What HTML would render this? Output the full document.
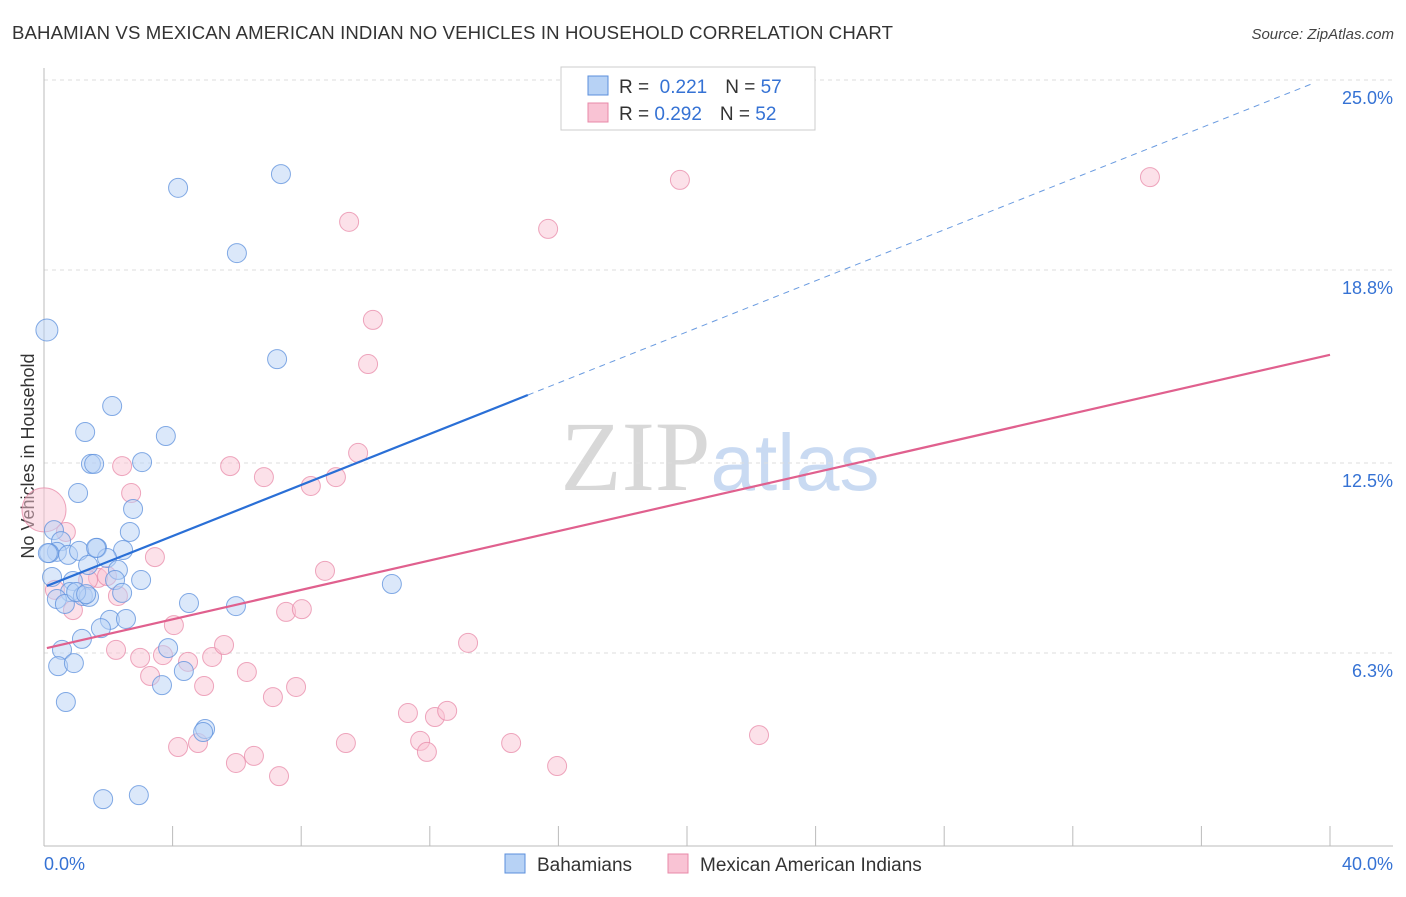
<!DOCTYPE html>
<html><head><meta charset="utf-8"><style>
body{margin:0;background:#fff;font-family:"Liberation Sans",sans-serif}
</style></head><body>
<svg id="chart" width="1406" height="892" xmlns="http://www.w3.org/2000/svg" font-family="Liberation Sans, sans-serif">
<text x="12" y="39" font-size="18.6" fill="#333" textLength="881">BAHAMIAN VS MEXICAN AMERICAN INDIAN NO VEHICLES IN HOUSEHOLD CORRELATION CHART</text>
<text x="1394" y="39" font-size="15" font-style="italic" fill="#444" text-anchor="end">Source: ZipAtlas.com</text>
<text x="720" y="490" font-size="100" fill="#d8d8d8" text-anchor="middle" font-family="Liberation Serif, serif">ZIP<tspan fill="#c9daf2" font-family="Liberation Sans, sans-serif" font-size="80">atlas</tspan></text>
<text transform="translate(34,456) rotate(-90)" font-size="18" fill="#333" text-anchor="middle">No Vehicles in Household</text>
<g id="grid"></g><g id="axes"></g><g id="pts"></g><g id="lines"></g>
<g>
<rect x="561" y="67" width="254" height="63" fill="#fff" stroke="#ccc"/>
<rect x="588" y="76" width="20" height="19" fill="#b7d2f5" stroke="#5b8fdc"/>
<rect x="588" y="103" width="20" height="19" fill="#f9c3d4" stroke="#e88aa8"/>
<text x="619" y="93" font-size="19" fill="#333">R = <tspan fill="#3572d4">&#160;0.221</tspan><tspan dx="18">N = </tspan><tspan fill="#3572d4">57</tspan></text>
<text x="619" y="120" font-size="19" fill="#333">R = <tspan fill="#3572d4">0.292</tspan><tspan dx="18">N = </tspan><tspan fill="#3572d4">52</tspan></text>
</g>
<g>
<rect x="505" y="854" width="20" height="19" fill="#b7d2f5" stroke="#5b8fdc"/>
<text x="537" y="871" font-size="19" fill="#333">Bahamians</text>
<rect x="668" y="854" width="20" height="19" fill="#f9c3d4" stroke="#e88aa8"/>
<text x="700" y="871" font-size="19" fill="#333">Mexican American Indians</text>
</g>
</svg>
<script>
const yTicks=[6.3,12.5,18.8,25.0];
const yTickLabels=["6.3%","12.5%","18.8%","25.0%"];
const xTickLabels=["0.0%","40.0%"];
const blueX=[0.09,4.17,7.37,6.00,7.25,2.12,1.28,3.79,1.46,1.56,3.05,1.06,2.77,0.31,2.67,0.53,0.40,0.16,0.75,1.65,1.09,2.46,1.96,1.37,2.30,0.25,0.90,2.21,3.02,10.82,0.81,2.43,1.21,1.40,0.40,0.65,4.51,5.97,2.05,2.55,1.77,1.18,3.86,0.56,4.35,0.44,0.93,3.67,0.68,5.01,4.95,1.84,2.95,1.62,1.00,1.31,0.12];
const blueY=[16.84,21.48,21.93,19.35,15.89,14.36,13.51,13.38,12.47,12.47,12.53,11.52,11.00,10.31,10.25,9.95,9.60,9.56,9.50,9.73,9.63,9.66,9.40,9.17,9.01,8.78,8.65,8.68,8.68,8.55,8.29,8.26,8.16,8.13,8.06,7.90,7.93,7.83,7.38,7.41,7.11,6.76,6.46,6.40,5.71,5.87,5.97,5.25,4.70,3.82,3.72,1.53,1.66,9.73,8.29,8.22,9.56];
const pinkX=[0.00,0.68,0.34,0.90,1.68,1.96,2.30,2.43,2.71,3.45,4.04,2.24,2.99,3.30,3.70,4.48,4.98,5.23,5.60,5.79,6.31,6.84,8.30,9.08,9.77,8.74,7.53,8.02,9.49,10.23,10.08,15.68,19.78,34.40,13.19,7.84,7.12,5.97,6.53,7.31,4.17,4.79,9.39,11.32,12.16,12.54,11.70,11.91,14.53,15.96,22.24,1.37];
const pinkY=[10.97,10.25,8.36,7.70,8.75,8.81,8.16,12.40,11.52,9.43,7.21,6.40,6.14,5.55,6.23,6.01,5.22,6.17,6.56,12.40,5.68,12.04,11.75,12.04,12.83,8.98,7.64,7.73,20.37,17.17,15.73,20.14,21.74,21.83,6.63,5.19,4.86,2.71,2.94,2.28,3.23,3.36,3.36,4.34,4.21,4.41,3.43,3.07,3.36,2.61,3.62,8.68];
const blueTrend=[8.45,0.4165];
const pinkTrend=[6.44,0.2398];
const NS="http://www.w3.org/2000/svg";
const X0=44,X1=1330,Y0=846,PY=30.64;
const sx=v=>X0+v/40*(X1-X0), sy=v=>Y0-v*PY;
function mk(tag,at,parent){const e=document.createElementNS(NS,tag);for(const k in at)e.setAttribute(k,at[k]);document.getElementById(parent).appendChild(e);return e;}
yTicks.forEach((t,i)=>{
 const g=mk('line',{x1:44,x2:1393,y1:sy(t),y2:sy(t),stroke:'#ddd','stroke-dasharray':'4,4'},'grid');
 
 
 const l=mk('text',{x:1393,y:sy(t)+24,'font-size':18,fill:'#3572d4','text-anchor':'end'},'axes');
 l.textContent=yTickLabels[i];
 
 
});
const ax=mk('line',{x1:44,x2:1393,y1:846,y2:846,stroke:'#bbb'},'axes');


const ay=mk('line',{x1:44,x2:44,y1:68,y2:846,stroke:'#bbb'},'axes');


for(let i=1;i<=10;i++){const t=mk('line',{x1:sx(i*4),x2:sx(i*4),y1:826,y2:846,stroke:'#bbb'},'axes');
 
 }
[[0,'start',44],[1,'end',1393]].forEach(([i,a,x])=>{const l=mk('text',{x:x,y:870,'font-size':18,fill:'#3572d4','text-anchor':a},'axes');l.textContent=xTickLabels[i];
 
 });
function pts(xs,ys,fill,stroke,name){xs.forEach((x,i)=>{
 const big=(name==='bahamian-point'&&i===0)?11:(name==='mexican-point'&&i===0)?22:9.5;
 const c=mk('circle',{cx:sx(x),cy:sy(ys[i]),r:big,fill:fill,'fill-opacity':0.5,stroke:stroke,'stroke-width':1,'stroke-opacity':0.75},'pts');
 
 });}
pts(pinkX,pinkY,'#f9c3d4','#e88aa8','mexican-point');
pts(blueX,blueY,'#b7d2f5','#5b8fdc','bahamian-point');
const bl=mk('line',{x1:sx(0.09),y1:sy(blueTrend[0]+blueTrend[1]*0.09),x2:sx(15.05),y2:sy(blueTrend[0]+blueTrend[1]*15.05),stroke:'#2a6fd6','stroke-width':2.2},'lines');


const bd=mk('line',{x1:sx(15.05),y1:sy(blueTrend[0]+blueTrend[1]*15.05),x2:sx(39.5),y2:sy(blueTrend[0]+blueTrend[1]*39.5),stroke:'#6a9be0','stroke-width':1,'stroke-dasharray':'6,5'},'lines');


const pl=mk('line',{x1:sx(0.09),y1:sy(pinkTrend[0]+pinkTrend[1]*0.09),x2:sx(40),y2:sy(pinkTrend[0]+pinkTrend[1]*40),stroke:'#e0608e','stroke-width':2.2},'lines');


</script>
</body></html>
